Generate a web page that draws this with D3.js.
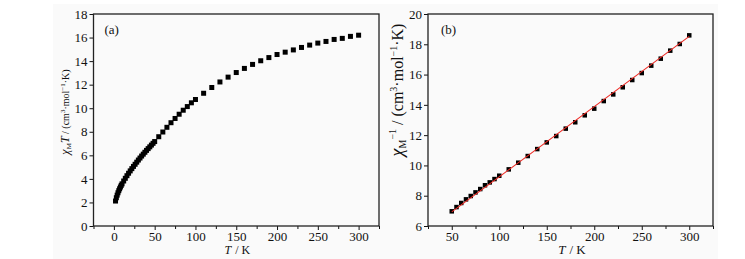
<!DOCTYPE html>
<html>
<head>
<meta charset="utf-8">
<script src="https://cdn.jsdelivr.net/npm/d3@7"></script>
<style>
  body { margin: 0; background: #fff; }
  text { font-family: "Liberation Serif", "Times New Roman", Times, serif; fill: #111; }
</style>
</head>
<body>
<div id="chart"></div>
<script>
// (a) chi_M T vs T
var tempA = [2, 3, 4, 5, 6, 7, 8, 9, 10, 12, 14, 16, 18, 20, 22, 24, 26, 28, 30, 32, 34, 36, 38, 40, 42, 44, 46, 48, 50,
  55, 60, 65, 70, 75, 80, 85, 90, 95, 100, 110, 120, 130, 140, 150, 160, 170, 180, 190, 200,
  210, 220, 230, 240, 250, 260, 270, 280, 290, 300]
var chiTA = [2.12, 2.40, 2.62, 2.82, 3.00, 3.16, 3.31, 3.45, 3.58, 3.82, 4.05, 4.27, 4.48, 4.68, 4.87, 5.06, 5.24, 5.42, 5.60,
  5.77, 5.94, 6.10, 6.26, 6.42, 6.57, 6.72, 6.87, 7.02, 7.17,
  7.58, 7.98, 8.38, 8.77, 9.13, 9.49, 9.83, 10.14, 10.46, 10.74, 11.27, 11.76, 12.23, 12.64, 13.03, 13.38, 13.72, 14.03, 14.30, 14.56,
  14.76, 14.95, 15.16, 15.36, 15.53, 15.67, 15.84, 15.93, 16.10, 16.20]

// (b) 1/chi_M vs T with linear fit
var tempB = [50, 55, 60, 65, 70, 75, 80, 85, 90, 95, 100, 110, 120, 130, 140, 150, 160, 170, 180, 190, 200,
  210, 220, 230, 240, 250, 260, 270, 280, 290, 300]
var invChiB = [6.97, 7.25, 7.52, 7.76, 7.98, 8.22, 8.44, 8.69, 8.88, 9.10, 9.32, 9.74, 10.18, 10.62, 11.08, 11.52, 11.94, 12.43, 12.85, 13.31, 13.75,
  14.25, 14.69, 15.16, 15.64, 16.10, 16.59, 17.05, 17.58, 18.02, 18.59]
var fitT = [50, 300]
var fitInv = [6.93, 18.52]

var xTicksA = [0, 50, 100, 150, 200, 250, 300]
var yTicksA = [0, 2, 4, 6, 8, 10, 12, 14, 16, 18]
var xTicksB = [50, 100, 150, 200, 250, 300]
var yTicksB = [6, 8, 10, 12, 14, 16, 18, 20]
var xMinorA = [-25, 25, 75, 125, 175, 225, 275, 325]
var xMinorB = [25, 75, 125, 175, 225, 275, 325]

var svg = d3.select('#chart')
  .append('svg')
  .attr('width', 745)
  .attr('height', 259)

// faint grey of the scanned figure
svg.append('rect')
  .attr('x', 53).attr('y', 4)
  .attr('width', 665).attr('height', 255)
  .attr('fill', '#fafafa')

function panel (opt) {
  var x = d3.scaleLinear().domain(opt.xDomain).range([opt.left, opt.right])
  var y = d3.scaleLinear().domain(opt.yDomain).range([opt.bottom, opt.top])
  var g = svg.append('g')

  // x axis with major + minor ticks
  g.append('g')
    .attr('transform', 'translate(0,' + opt.bottom + ')')
    .call(d3.axisBottom(x).tickValues(opt.xMinor).tickSize(3).tickFormat(''))
    .call(function (a) { a.select('.domain').remove() })
  g.append('g')
    .attr('transform', 'translate(0,' + opt.bottom + ')')
    .call(d3.axisBottom(x).tickValues(opt.xTicks).tickSize(4).tickPadding(2))
    .call(function (a) { a.select('.domain').remove() })
    .selectAll('text').attr('font-size', 13).attr('fill', '#111')

  g.append('g')
    .attr('transform', 'translate(' + opt.left + ',0)')
    .call(d3.axisLeft(y).tickValues(opt.yTicks).tickSize(4).tickPadding(2))
    .call(function (a) { a.select('.domain').remove() })
    .selectAll('text').attr('font-size', 13).attr('fill', '#111')

  g.selectAll('.tick line').attr('stroke', '#111')

  // frame
  g.append('rect')
    .attr('x', opt.left).attr('y', opt.top)
    .attr('width', opt.right - opt.left).attr('height', opt.bottom - opt.top)
    .attr('fill', 'none').attr('stroke', '#222').attr('stroke-width', 1.3)

  g.selectAll('rect.pt')
    .data(d3.zip(opt.xs, opt.ys))
    .enter().append('rect')
    .attr('class', 'pt')
    .attr('x', function (d) { return x(d[0]) - opt.ms / 2 })
    .attr('y', function (d) { return y(d[1]) - opt.ms / 2 })
    .attr('width', opt.ms).attr('height', opt.ms)
    .attr('fill', '#000')

  // red fit line sits on top of the squares
  if (opt.fitX) {
    g.append('path')
      .datum(d3.zip(opt.fitX, opt.fitY))
      .attr('d', d3.line().x(function (d) { return x(d[0]) }).y(function (d) { return y(d[1]) }))
      .attr('stroke', '#ee2a24').attr('stroke-width', 1.1).attr('fill', 'none')
  }

  g.append('text')
    .attr('x', opt.left + opt.tagDx).attr('y', opt.top + 20)
    .attr('font-size', 13)
    .text(opt.tag)

  // "T / K" as two texts so the italic T keeps its own box
  var cx = (opt.left + opt.right) / 2
  g.append('text')
    .attr('x', cx - 5).attr('y', 254)
    .attr('text-anchor', 'end')
    .attr('font-size', opt.xlSize)
    .attr('font-style', 'italic')
    .text('T')
  g.append('text')
    .attr('x', cx - 1).attr('y', 254)
    .attr('text-anchor', 'start')
    .attr('font-size', opt.xlSize)
    .text('/ K')

  return g
}

var ga = panel({
  left: 93.5, right: 379, top: 14, bottom: 226,
  xDomain: [-25, 325], yDomain: [0, 18],
  xTicks: xTicksA, yTicks: yTicksA, xMinor: xMinorA,
  xs: tempA, ys: chiTA, ms: 5,
  tag: '(a)', tagDx: 11, xlSize: 12
})

var gb = panel({
  left: 428, right: 713, top: 14, bottom: 226,
  xDomain: [25, 325], yDomain: [6, 20],
  xTicks: xTicksB, yTicks: yTicksB, xMinor: xMinorB,
  xs: tempB, ys: invChiB, ms: 4.5,
  fitX: fitT, fitY: fitInv,
  tag: '(b)', tagDx: 13, xlSize: 13
})

// y label (a)
var yla = ga.append('text')
  .attr('transform', 'translate(69,112) rotate(-90)')
  .attr('text-anchor', 'middle')
  .attr('font-size', 10)
yla.append('tspan').attr('font-style', 'italic').attr('font-size', 12).text('χ')
yla.append('tspan').attr('font-size', 7).attr('dy', 2).text('M')
yla.append('tspan').attr('font-style', 'italic').attr('font-size', 12).attr('dy', -2).text('T')
yla.append('tspan').text(' / (cm')
yla.append('tspan').attr('font-size', 7).attr('dy', -4).text('3')
yla.append('tspan').attr('dy', 4).text('·mol')
yla.append('tspan').attr('font-size', 7).attr('dy', -4).text('−1')
yla.append('tspan').attr('dy', 4).text('·K)')

// y label (b)
var ylb = gb.append('text')
  .attr('transform', 'translate(403,90) rotate(-90)')
  .attr('text-anchor', 'middle')
  .attr('font-size', 16)
ylb.append('tspan').attr('font-style', 'italic').attr('font-size', 18).text('χ')
ylb.append('tspan').attr('font-size', 10).attr('dy', 3).text('M')
ylb.append('tspan').attr('font-size', 10).attr('dy', -10).text('−1')
ylb.append('tspan').attr('dy', 7).text(' / (cm')
ylb.append('tspan').attr('font-size', 10).attr('dy', -6).text('3')
ylb.append('tspan').attr('dy', 6).text('·mol')
ylb.append('tspan').attr('font-size', 10).attr('dy', -6).text('−1')
ylb.append('tspan').attr('dy', 6).text('·K)')
</script>
</body>
</html>
